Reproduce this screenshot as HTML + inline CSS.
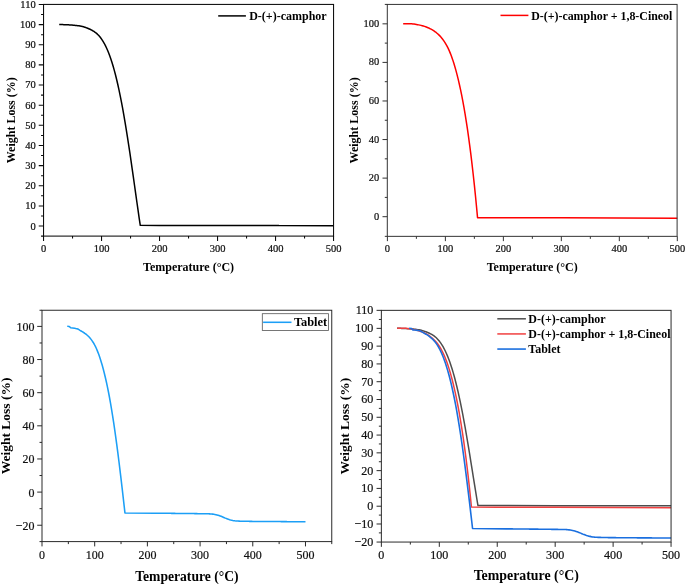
<!DOCTYPE html>
<html><head><meta charset="utf-8"><title>TGA curves</title>
<style>
html,body{margin:0;padding:0;background:#fff;}
body{width:685px;height:584px;overflow:hidden;font-family:"Liberation Serif",serif;}
svg{display:block;will-change:transform;}
</style></head><body>
<svg width="685" height="584" viewBox="0 0 685 584">
<rect width="685" height="584" fill="#fff"/>
<g id="p1">
<polyline points="59.21,24.6 60.37,24.6 61.53,24.6 62.69,24.6 63.85,24.63 65.01,24.67 66.17,24.73 67.33,24.79 68.49,24.85 69.65,24.92 70.81,25 71.97,25.08 73.13,25.17 74.29,25.27 75.45,25.38 76.61,25.51 77.77,25.66 78.93,25.83 80.09,26.03 81.25,26.26 82.41,26.53 83.57,26.84 84.73,27.19 85.88,27.58 87.04,28.01 88.2,28.47 89.35,28.98 90.51,29.53 91.66,30.12 92.81,30.77 93.96,31.48 95.11,32.28 96.25,33.17 97.39,34.18 98.53,35.31 99.66,36.58 100.79,38 101.92,39.58 103.05,41.34 104.18,43.27 105.3,45.4 106.43,47.73 107.55,50.27 108.68,53.03 109.81,56.03 110.94,59.28 112.08,62.79 113.22,66.58 114.37,70.65 115.53,75.04 116.69,79.74 117.86,84.77 119.04,90.13 120.22,95.82 121.41,101.85 122.6,108.19 123.79,114.85 124.99,121.81 126.18,129.04 127.38,136.54 128.57,144.27 129.77,152.2 130.96,160.31 132.14,168.55 133.33,176.89 134.51,185.27 135.69,193.65 136.87,201.99 138.04,210.22 139.21,218.28 140.27,225.36 159.55,225.39 217.56,225.41 275.56,225.45 279.04,225.61 333.56,225.65" fill="none" stroke="#000000" stroke-width="1.5" stroke-linejoin="round"/>
<path d="M43.55 226.05h-4.8M43.55 205.91h-4.8M43.55 185.76h-4.8M43.55 165.61h-4.8M43.55 145.47h-4.8M43.55 125.32h-4.8M43.55 105.18h-4.8M43.55 85.03h-4.8M43.55 64.89h-4.8M43.55 44.75h-4.8M43.55 24.6h-4.8M43.55 4.46h-4.8M43.55 215.98h-2.5M43.55 195.83h-2.5M43.55 175.69h-2.5M43.55 155.54h-2.5M43.55 135.4h-2.5M43.55 115.25h-2.5M43.55 95.11h-2.5M43.55 74.96h-2.5M43.55 54.82h-2.5M43.55 34.67h-2.5M43.55 14.53h-2.5M43.55 236.1h-2.5M43.55 236.1v4.8M101.55 236.1v4.8M159.55 236.1v4.8M217.56 236.1v4.8M275.56 236.1v4.8M333.56 236.1v4.8M72.55 236.1v2.5M130.55 236.1v2.5M188.56 236.1v2.5M246.56 236.1v2.5M304.56 236.1v2.5" stroke="#0a0a0a" stroke-width="1.05" fill="none"/>
<rect x="43.55" y="4.42" width="290.01" height="231.68" fill="none" stroke="#0a0a0a" stroke-width="1.05"/>
<g font-family="'Liberation Serif', serif" font-size="10.5" fill="#111" stroke="#111" stroke-width="0.22">
<text transform="translate(35.7 229.5) scale(1 1)" text-anchor="end">0</text>
<text transform="translate(35.7 209.35) scale(1 1)" text-anchor="end">10</text>
<text transform="translate(35.7 189.21) scale(1 1)" text-anchor="end">20</text>
<text transform="translate(35.7 169.06) scale(1 1)" text-anchor="end">30</text>
<text transform="translate(35.7 148.92) scale(1 1)" text-anchor="end">40</text>
<text transform="translate(35.7 128.77) scale(1 1)" text-anchor="end">50</text>
<text transform="translate(35.7 108.63) scale(1 1)" text-anchor="end">60</text>
<text transform="translate(35.7 88.48) scale(1 1)" text-anchor="end">70</text>
<text transform="translate(35.7 68.34) scale(1 1)" text-anchor="end">80</text>
<text transform="translate(35.7 48.2) scale(1 1)" text-anchor="end">90</text>
<text transform="translate(35.7 28.05) scale(1 1)" text-anchor="end">100</text>
<text transform="translate(35.7 7.91) scale(1 1)" text-anchor="end">110</text>
<text transform="translate(43.55 251.7) scale(1 1)" text-anchor="middle">0</text>
<text transform="translate(101.55 251.7) scale(1 1)" text-anchor="middle">100</text>
<text transform="translate(159.55 251.7) scale(1 1)" text-anchor="middle">200</text>
<text transform="translate(217.56 251.7) scale(1 1)" text-anchor="middle">300</text>
<text transform="translate(275.56 251.7) scale(1 1)" text-anchor="middle">400</text>
<text transform="translate(333.56 251.7) scale(1 1)" text-anchor="middle">500</text>
</g>
<g font-family="'Liberation Serif', serif" font-weight="bold" font-size="12" fill="#000">
<text transform="translate(188.56 271.3) scale(1 1)" text-anchor="middle">Temperature (°C)</text>
<text transform="translate(15.1 120.26) rotate(-90) scale(1 1)" text-anchor="middle" font-size="12">Weight Loss (%)</text>
</g>
</g>
<g id="p2">
<polyline points="403.17,23.83 403.63,23.83 404.79,23.83 405.95,23.83 407.11,23.83 408.27,23.83 409.43,23.83 410.59,23.83 411.75,23.84 412.91,23.96 414.07,24.1 415.23,24.26 416.39,24.44 417.55,24.65 418.71,24.87 419.87,25.12 421.03,25.39 422.19,25.69 423.35,26.02 424.52,26.39 425.68,26.78 426.85,27.22 428.03,27.69 429.2,28.22 430.38,28.8 431.57,29.44 432.77,30.14 433.97,30.92 435.18,31.77 436.39,32.71 437.61,33.73 438.83,34.86 440.05,36.1 441.27,37.46 442.47,38.95 443.67,40.58 444.85,42.35 446.02,44.28 447.17,46.39 448.31,48.67 449.43,51.15 450.54,53.84 451.65,56.75 452.75,59.89 453.85,63.28 454.95,66.93 456.05,70.86 457.16,75.08 458.28,79.61 459.4,84.47 460.53,89.66 461.67,95.21 462.81,101.14 463.96,107.46 465.11,114.19 466.26,121.35 467.42,128.96 468.58,137.04 469.73,145.61 470.89,154.68 472.05,164.29 473.21,174.46 474.37,185.19 475.53,196.52 476.69,208.48 477.54,217.65 503.36,217.69 561.34,217.69 619.32,218 677.3,218.27" fill="none" stroke="#ff0000" stroke-width="1.5" stroke-linejoin="round"/>
<path d="M387.3 216.69h-4.8M387.3 178.12h-4.8M387.3 139.55h-4.8M387.3 100.97h-4.8M387.3 62.4h-4.8M387.3 23.83h-4.8M387.3 197.4h-2.5M387.3 158.83h-2.5M387.3 120.26h-2.5M387.3 81.69h-2.5M387.3 43.12h-2.5M387.3 236.35h-2.5M387.3 4.42h-2.5M387.4 236.35v4.8M445.38 236.35v4.8M503.36 236.35v4.8M561.34 236.35v4.8M619.32 236.35v4.8M677.3 236.35v4.8M416.39 236.35v2.5M474.37 236.35v2.5M532.35 236.35v2.5M590.33 236.35v2.5M648.31 236.35v2.5" stroke="#333" stroke-width="1.0" fill="none"/>
<rect x="387.3" y="4.42" width="289.8" height="231.93" fill="none" stroke="#333" stroke-width="1.0"/>
<g font-family="'Liberation Serif', serif" font-size="10.9" fill="#111" stroke="#111" stroke-width="0.22">
<text transform="translate(379.3 219.74) scale(0.96 1)" text-anchor="end">0</text>
<text transform="translate(379.3 181.17) scale(0.96 1)" text-anchor="end">20</text>
<text transform="translate(379.3 142.6) scale(0.96 1)" text-anchor="end">40</text>
<text transform="translate(379.3 104.02) scale(0.96 1)" text-anchor="end">60</text>
<text transform="translate(379.3 65.45) scale(0.96 1)" text-anchor="end">80</text>
<text transform="translate(379.3 26.88) scale(0.96 1)" text-anchor="end">100</text>
<text transform="translate(387.4 252) scale(0.96 1)" text-anchor="middle">0</text>
<text transform="translate(445.38 252) scale(0.96 1)" text-anchor="middle">100</text>
<text transform="translate(503.36 252) scale(0.96 1)" text-anchor="middle">200</text>
<text transform="translate(561.34 252) scale(0.96 1)" text-anchor="middle">300</text>
<text transform="translate(619.32 252) scale(0.96 1)" text-anchor="middle">400</text>
<text transform="translate(677.3 252) scale(0.96 1)" text-anchor="middle">500</text>
</g>
<g font-family="'Liberation Serif', serif" font-weight="bold" font-size="13.1" fill="#000">
<text transform="translate(532.2 271.4) scale(0.915 1)" text-anchor="middle">Temperature (°C)</text>
<text transform="translate(358.3 120.38) rotate(-90) scale(1 1)" text-anchor="middle" font-size="12">Weight Loss (%)</text>
</g>
</g>
<g id="p3">
<polyline points="67.24,326.32 69.3,326.48 69.93,327.06 70.67,327.81 72.56,327.97 74.68,328.25 75.74,328.47 76.8,328.66 77.87,329.02 78.94,329.63 80.02,330.33 81.11,330.98 82.2,331.61 83.31,332.27 84.42,333.01 85.54,333.82 86.66,334.72 87.78,335.72 88.89,336.82 90,338.03 91.09,339.37 92.16,340.85 93.22,342.47 94.25,344.24 95.27,346.18 96.27,348.29 97.26,350.6 98.25,353.1 99.24,355.81 100.23,358.74 101.22,361.91 102.23,365.33 103.24,369.01 104.26,372.96 105.29,377.2 106.33,381.73 107.37,386.59 108.41,391.76 109.46,397.27 110.51,403.11 111.56,409.29 112.61,415.8 113.67,422.65 114.72,429.82 115.77,437.31 116.83,445.09 117.88,453.17 118.94,461.51 119.99,470.1 121.04,478.9 122.1,487.91 123.15,497.07 124.21,506.37 124.94,512.9 155.82,513.23 156.88,513.23 157.93,513.24 158.99,513.25 160.04,513.26 161.09,513.27 162.15,513.27 163.2,513.28 164.25,513.29 165.31,513.3 166.36,513.31 167.42,513.32 168.47,513.33 169.52,513.34 170.58,513.35 171.63,513.36 172.69,513.37 173.74,513.38 174.79,513.39 175.85,513.4 176.9,513.41 177.96,513.42 179.01,513.44 180.06,513.45 181.12,513.46 182.17,513.47 183.23,513.48 184.28,513.49 185.33,513.5 186.39,513.52 187.44,513.53 188.49,513.54 189.55,513.55 190.6,513.56 191.66,513.58 192.71,513.59 193.76,513.6 194.82,513.62 195.87,513.63 196.93,513.64 197.98,513.66 199.03,513.67 200.09,513.69 201.14,513.71 202.2,513.72 203.25,513.73 204.3,513.75 205.36,513.76 206.41,513.78 207.47,513.8 208.52,513.83 209.57,513.86 210.63,513.9 211.68,513.98 212.74,514.12 213.79,514.3 214.84,514.49 215.9,514.7 216.95,514.95 218,515.24 219.06,515.57 220.11,515.93 221.17,516.3 222.22,516.73 223.27,517.19 224.33,517.67 225.38,518.12 226.44,518.52 227.49,518.93 228.54,519.33 229.6,519.69 230.65,519.99 231.71,520.23 232.76,520.46 233.81,520.65 234.87,520.81 235.92,520.92 236.98,521 238.03,521.06 239.08,521.11 240.14,521.15 241.19,521.18 242.24,521.21 243.3,521.24 244.35,521.26 245.41,521.29 246.46,521.31 247.51,521.33 248.57,521.34 249.62,521.36 250.68,521.37 251.73,521.38 252.78,521.4 253.84,521.41 254.89,521.42 255.95,521.43 257,521.44 258.05,521.45 259.11,521.46 260.16,521.47 261.22,521.47 262.27,521.48 263.32,521.49 264.38,521.5 265.43,521.51 266.48,521.51 267.54,521.52 268.59,521.53 269.65,521.53 270.7,521.54 271.75,521.55 272.81,521.55 273.86,521.56 274.92,521.57 275.97,521.57 277.02,521.58 278.08,521.59 279.13,521.59 280.19,521.6 281.24,521.61 282.29,521.62 283.35,521.62 284.4,521.63 285.46,521.64 286.51,521.64 287.56,521.65 288.62,521.66 289.67,521.67 290.73,521.67 291.78,521.68 292.83,521.69 293.89,521.69 294.94,521.7 295.99,521.7 297.05,521.71 298.1,521.72 299.16,521.72 300.21,521.73 301.26,521.74 302.32,521.74 303.37,521.75 304.43,521.75 305.48,521.76" fill="none" stroke="#1c9ff6" stroke-width="1.55" stroke-linejoin="round"/>
<path d="M42 525.24h-4.8M42 492.1h-4.8M42 458.96h-4.8M42 425.82h-4.8M42 392.68h-4.8M42 359.54h-4.8M42 326.4h-4.8M42 508.67h-2.5M42 475.53h-2.5M42 442.39h-2.5M42 409.25h-2.5M42 376.11h-2.5M42 342.97h-2.5M42 541.6h-2.5M42 310.25h-2.5M42 541.6v4.8M94.7 541.6v4.8M147.39 541.6v4.8M200.09 541.6v4.8M252.78 541.6v4.8M305.48 541.6v4.8M68.35 541.6v2.5M121.04 541.6v2.5M173.74 541.6v2.5M226.44 541.6v2.5M279.13 541.6v2.5M331.75 541.6v2.5" stroke="#2a2a2a" stroke-width="1.0" fill="none"/>
<rect x="42" y="310.25" width="289.75" height="231.35" fill="none" stroke="#2a2a2a" stroke-width="1.0"/>
<g font-family="'Liberation Serif', serif" font-size="13.4" fill="#111" stroke="#111" stroke-width="0.22">
<text transform="translate(34.4 529.64) scale(0.895 1)" text-anchor="end">−20</text>
<text transform="translate(34.4 496.5) scale(0.895 1)" text-anchor="end">0</text>
<text transform="translate(34.4 463.36) scale(0.895 1)" text-anchor="end">20</text>
<text transform="translate(34.4 430.22) scale(0.895 1)" text-anchor="end">40</text>
<text transform="translate(34.4 397.08) scale(0.895 1)" text-anchor="end">60</text>
<text transform="translate(34.4 363.94) scale(0.895 1)" text-anchor="end">80</text>
<text transform="translate(34.4 330.8) scale(0.895 1)" text-anchor="end">100</text>
<text transform="translate(42 559) scale(0.895 1)" text-anchor="middle">0</text>
<text transform="translate(94.7 559) scale(0.895 1)" text-anchor="middle">100</text>
<text transform="translate(147.39 559) scale(0.895 1)" text-anchor="middle">200</text>
<text transform="translate(200.09 559) scale(0.895 1)" text-anchor="middle">300</text>
<text transform="translate(252.78 559) scale(0.895 1)" text-anchor="middle">400</text>
<text transform="translate(305.48 559) scale(0.895 1)" text-anchor="middle">500</text>
</g>
<g font-family="'Liberation Serif', serif" font-weight="bold" font-size="15.4" fill="#000">
<text transform="translate(186.88 581.1) scale(0.885 1)" text-anchor="middle">Temperature (°C)</text>
<text transform="translate(10.15 425.93) rotate(-90) scale(1 1)" text-anchor="middle" font-size="13.5">Weight Loss (%)</text>
</g>
</g>
<g id="p4">
<polyline points="397,328.36 398.16,328.36 399.32,328.36 400.48,328.36 401.64,328.39 402.8,328.43 403.96,328.47 405.12,328.53 406.27,328.58 407.43,328.65 408.59,328.71 409.75,328.79 410.91,328.87 412.07,328.95 413.23,329.05 414.39,329.16 415.54,329.29 416.7,329.44 417.86,329.62 419.02,329.83 420.18,330.06 421.34,330.34 422.49,330.64 423.65,330.99 424.81,331.37 425.96,331.78 427.11,332.22 428.27,332.71 429.42,333.23 430.57,333.8 431.72,334.44 432.86,335.14 434,335.93 435.14,336.81 436.28,337.81 437.41,338.94 438.54,340.19 439.67,341.59 440.8,343.14 441.92,344.84 443.05,346.72 444.17,348.78 445.29,351.02 446.42,353.46 447.55,356.11 448.68,358.98 449.82,362.07 450.96,365.42 452.11,369.02 453.26,372.89 454.43,377.04 455.59,381.48 456.77,386.21 457.95,391.24 459.13,396.55 460.32,402.16 461.52,408.03 462.71,414.18 463.9,420.57 465.1,427.19 466.29,434.01 467.48,441.01 468.67,448.17 469.86,455.44 471.04,462.8 472.22,470.2 473.4,477.61 474.58,484.97 475.75,492.23 476.92,499.35 477.97,505.6 497.24,505.62 555.18,505.64 613.12,505.67 616.6,505.81 671.06,505.85" fill="none" stroke="#4d4d4d" stroke-width="1.5" stroke-linejoin="round"/>
<polyline points="397.12,328.36 397.58,328.36 398.74,328.36 399.9,328.36 401.06,328.36 402.22,328.36 403.38,328.36 404.54,328.36 405.69,328.37 406.85,328.48 408.01,328.61 409.17,328.76 410.33,328.93 411.49,329.11 412.65,329.32 413.81,329.55 414.97,329.8 416.13,330.08 417.29,330.38 418.45,330.72 419.62,331.08 420.79,331.48 421.96,331.92 423.13,332.41 424.31,332.94 425.5,333.53 426.7,334.18 427.9,334.89 429.11,335.68 430.32,336.54 431.54,337.49 432.76,338.53 433.97,339.68 435.19,340.93 436.39,342.3 437.59,343.8 438.77,345.44 439.94,347.22 441.09,349.16 442.22,351.27 443.35,353.56 444.46,356.03 445.56,358.72 446.66,361.62 447.76,364.74 448.86,368.11 449.96,371.73 451.07,375.62 452.19,379.8 453.31,384.27 454.44,389.06 455.58,394.18 456.72,399.65 457.87,405.48 459.02,411.68 460.17,418.29 461.32,425.3 462.48,432.75 463.64,440.66 464.8,449.03 465.95,457.89 467.11,467.26 468.27,477.16 469.43,487.61 470.59,498.63 471.44,507.09 497.24,507.13 555.18,507.13 613.12,507.41 671.06,507.66" fill="none" stroke="#f14040" stroke-width="1.5" stroke-linejoin="round"/>
<polyline points="409.11,328.27 411.37,328.45 412.07,329.07 412.88,329.87 414.97,330.05 417.29,330.34 418.46,330.58 419.63,330.78 420.8,331.18 421.98,331.83 423.16,332.57 424.36,333.27 425.56,333.95 426.78,334.66 428,335.45 429.23,336.32 430.46,337.29 431.7,338.36 432.92,339.54 434.14,340.84 435.34,342.28 436.52,343.87 437.67,345.6 438.81,347.51 439.93,349.59 441.03,351.86 442.12,354.33 443.21,357.01 444.29,359.92 445.38,363.07 446.48,366.48 447.58,370.14 448.69,374.09 449.82,378.33 450.95,382.88 452.09,387.75 453.23,392.96 454.38,398.51 455.53,404.42 456.69,410.69 457.84,417.32 459,424.31 460.16,431.66 461.32,439.36 462.48,447.4 463.63,455.75 464.79,464.42 465.95,473.37 467.11,482.59 468.27,492.04 469.43,501.7 470.59,511.54 471.75,521.52 472.55,528.53 506.51,528.88 507.67,528.89 508.83,528.9 509.99,528.91 511.15,528.91 512.3,528.92 513.46,528.93 514.62,528.94 515.78,528.95 516.94,528.96 518.1,528.97 519.26,528.98 520.42,528.99 521.57,529 522.73,529.01 523.89,529.02 525.05,529.03 526.21,529.05 527.37,529.06 528.53,529.07 529.69,529.08 530.85,529.09 532,529.1 533.16,529.12 534.32,529.13 535.48,529.14 536.64,529.15 537.8,529.17 538.96,529.18 540.12,529.19 541.27,529.2 542.43,529.22 543.59,529.23 544.75,529.24 545.91,529.26 547.07,529.27 548.23,529.28 549.39,529.3 550.54,529.31 551.7,529.33 552.86,529.34 554.02,529.36 555.18,529.38 556.34,529.4 557.5,529.41 558.66,529.43 559.82,529.44 560.97,529.46 562.13,529.48 563.29,529.5 564.45,529.53 565.61,529.56 566.77,529.6 567.93,529.69 569.09,529.84 570.24,530.03 571.4,530.24 572.56,530.46 573.72,530.73 574.88,531.05 576.04,531.4 577.2,531.78 578.36,532.18 579.51,532.64 580.67,533.14 581.83,533.65 582.99,534.13 584.15,534.57 585.31,535.01 586.47,535.43 587.63,535.82 588.79,536.14 589.94,536.4 591.1,536.64 592.26,536.85 593.42,537.02 594.58,537.14 595.74,537.22 596.9,537.29 598.06,537.34 599.21,537.38 600.37,537.42 601.53,537.45 602.69,537.48 603.85,537.51 605.01,537.53 606.17,537.55 607.33,537.57 608.48,537.59 609.64,537.61 610.8,537.62 611.96,537.64 613.12,537.65 614.28,537.66 615.44,537.67 616.6,537.68 617.76,537.69 618.91,537.71 620.07,537.71 621.23,537.72 622.39,537.73 623.55,537.74 624.71,537.75 625.87,537.76 627.03,537.77 628.18,537.77 629.34,537.78 630.5,537.79 631.66,537.8 632.82,537.8 633.98,537.81 635.14,537.82 636.3,537.82 637.45,537.83 638.61,537.84 639.77,537.85 640.93,537.85 642.09,537.86 643.25,537.87 644.41,537.88 645.57,537.89 646.73,537.89 647.88,537.9 649.04,537.91 650.2,537.92 651.36,537.92 652.52,537.93 653.68,537.94 654.84,537.94 656,537.95 657.15,537.96 658.31,537.97 659.47,537.97 660.63,537.98 661.79,537.99 662.95,537.99 664.11,538 665.27,538.01 666.42,538.01 667.58,538.02 668.74,538.03 669.9,538.03 671.06,538.04" fill="none" stroke="#1a6fdf" stroke-width="1.6" stroke-linejoin="round"/>
<path d="M381.36 523.99h-4.8M381.36 506.21h-4.8M381.36 488.42h-4.8M381.36 470.64h-4.8M381.36 452.85h-4.8M381.36 435.07h-4.8M381.36 417.28h-4.8M381.36 399.5h-4.8M381.36 381.71h-4.8M381.36 363.93h-4.8M381.36 346.14h-4.8M381.36 328.36h-4.8M381.36 542.05h-4.8M381.36 310.35h-4.8M381.36 532.88h-2.5M381.36 515.1h-2.5M381.36 497.31h-2.5M381.36 479.53h-2.5M381.36 461.74h-2.5M381.36 443.96h-2.5M381.36 426.18h-2.5M381.36 408.39h-2.5M381.36 390.61h-2.5M381.36 372.82h-2.5M381.36 355.04h-2.5M381.36 337.25h-2.5M381.36 319.47h-2.5M381.36 542.05v4.8M439.3 542.05v4.8M497.24 542.05v4.8M555.18 542.05v4.8M613.12 542.05v4.8M671.06 542.05v4.8M410.33 542.05v2.5M468.27 542.05v2.5M526.21 542.05v2.5M584.15 542.05v2.5M642.09 542.05v2.5" stroke="#2a2a2a" stroke-width="1.0" fill="none"/>
<rect x="381.36" y="310.35" width="289.7" height="231.7" fill="none" stroke="#2a2a2a" stroke-width="1.0"/>
<g font-family="'Liberation Serif', serif" font-size="13.3" fill="#111" stroke="#111" stroke-width="0.22">
<text transform="translate(373.36 545.95) scale(0.91 1)" text-anchor="end">−20</text>
<text transform="translate(373.36 527.89) scale(0.91 1)" text-anchor="end">−10</text>
<text transform="translate(373.36 510.11) scale(0.91 1)" text-anchor="end">0</text>
<text transform="translate(373.36 492.32) scale(0.91 1)" text-anchor="end">10</text>
<text transform="translate(373.36 474.54) scale(0.91 1)" text-anchor="end">20</text>
<text transform="translate(373.36 456.75) scale(0.91 1)" text-anchor="end">30</text>
<text transform="translate(373.36 438.97) scale(0.91 1)" text-anchor="end">40</text>
<text transform="translate(373.36 421.18) scale(0.91 1)" text-anchor="end">50</text>
<text transform="translate(373.36 403.4) scale(0.91 1)" text-anchor="end">60</text>
<text transform="translate(373.36 385.61) scale(0.91 1)" text-anchor="end">70</text>
<text transform="translate(373.36 367.83) scale(0.91 1)" text-anchor="end">80</text>
<text transform="translate(373.36 350.04) scale(0.91 1)" text-anchor="end">90</text>
<text transform="translate(373.36 332.26) scale(0.91 1)" text-anchor="end">100</text>
<text transform="translate(373.36 314.25) scale(0.91 1)" text-anchor="end">110</text>
<text transform="translate(381.36 559.05) scale(0.91 1)" text-anchor="middle">0</text>
<text transform="translate(439.3 559.05) scale(0.91 1)" text-anchor="middle">100</text>
<text transform="translate(497.24 559.05) scale(0.91 1)" text-anchor="middle">200</text>
<text transform="translate(555.18 559.05) scale(0.91 1)" text-anchor="middle">300</text>
<text transform="translate(613.12 559.05) scale(0.91 1)" text-anchor="middle">400</text>
<text transform="translate(671.06 559.05) scale(0.91 1)" text-anchor="middle">500</text>
</g>
<g font-family="'Liberation Serif', serif" font-weight="bold" font-size="15.4" fill="#000">
<text transform="translate(526.21 580.45) scale(0.9 1)" text-anchor="middle">Temperature (°C)</text>
<text transform="translate(349.3 426.2) rotate(-90) scale(1 1)" text-anchor="middle" font-size="13.5">Weight Loss (%)</text>
</g>
</g>
<g font-family="'Liberation Serif', serif" font-weight="bold" font-size="12" fill="#000">
<path d="M218.2 15.9H245.9" stroke="#000" stroke-width="1.5"/>
<text x="249.2" y="20">D-(+)-camphor</text>
<path d="M500.5 15.4H528.4" stroke="#ff0000" stroke-width="1.5"/>
<text x="531.2" y="19.7" font-size="11.9">D-(+)-camphor + 1,8-Cineol</text>
<rect x="262.3" y="313.7" width="66.2" height="16.8" fill="#fff" stroke="#555" stroke-width="0.8"/>
<path d="M263.1 322.3H291.5" stroke="#1c9ff6" stroke-width="1.55"/>
<text x="293.9" y="326.1" font-size="12.4">Tablet</text>
<path d="M497.3 318.8H525.9" stroke="#4d4d4d" stroke-width="1.5"/>
<text transform="translate(528.3 322.75) scale(0.915 1)" font-size="13.1">D-(+)-camphor</text>
<path d="M497.3 333.93H525.9" stroke="#f14040" stroke-width="1.5"/>
<text transform="translate(528.3 337.88) scale(0.915 1)" font-size="13.1">D-(+)-camphor + 1,8-Cineol</text>
<path d="M497.3 349.06H525.9" stroke="#1a6fdf" stroke-width="1.6"/>
<text transform="translate(528.3 353.01) scale(0.915 1)" font-size="13.1">Tablet</text>
</g>
</svg>
</body></html>
